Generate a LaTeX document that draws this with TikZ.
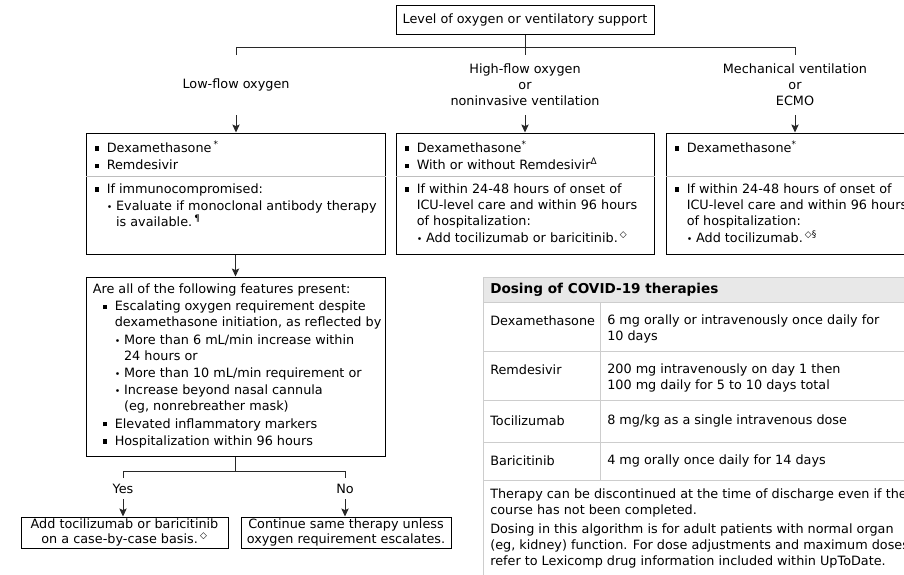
\documentclass[tikz,border=0pt]{standalone}
\usepackage{fontspec}
\setmainfont{DejaVu Sans}
\usepackage{tikz}
\usetikzlibrary{arrows.meta, positioning, fit}
\definecolor{LineGray}{RGB}{40,40,40}
\definecolor{RuleGray}{RGB}{190,190,190}
\definecolor{TabGray}{RGB}{205,205,205}
\definecolor{HeadFill}{RGB}{232,232,232}

\newlength{\sqw}\setlength{\sqw}{9pt}
\newlength{\dtw}\setlength{\dtw}{7pt}
\newlength{\ind}\setlength{\ind}{7.5pt}
\newcommand{\sqb}{\makebox[\sqw][l]{\rule[0.25ex]{3.2pt}{3.2pt}}}
\newcommand{\dtb}{\makebox[\dtw][l]{\scriptsize•}}
\newcommand{\fn}[1]{\textsuperscript{#1}}
\newcommand{\boxfont}{\fontsize{9.6}{12}\selectfont}

\begin{document}
\begin{tikzpicture}[
    x=0.75pt, y=-0.75pt,
    frame/.style={draw=black, line width=0.75pt, inner sep=0pt},
    txt/.style={anchor=north west, align=left, inner sep=0pt, font=\boxfont},
    lab/.style={align=center, inner sep=0pt, font=\boxfont},
    endtxt/.style={align=center, inner sep=0pt, font=\fontsize{9.6}{11}\selectfont},
    cell/.style={anchor=west, align=left, inner sep=0pt, font=\boxfont},
    divider/.style={draw=RuleGray, line width=0.75pt},
    tab/.style={draw=TabGray, line width=0.75pt},
    line/.style={draw=LineGray, line width=0.75pt},
    arr/.style={-{Stealth[length=6pt, width=5.5pt, inset=1.2pt]}, line width=0.75pt, LineGray}
]
\useasboundingbox (0,0) rectangle (904,575);
\clip (0,0) rectangle (904,575);

% level of support
\node[frame, font=\boxfont, minimum width=193.5pt, minimum height=21.75pt] (level) at (525,19.5) {Level of oxygen or ventilatory support};
\node[lab] (lowlab)  at (236,85) {Low-flow oxygen};
\node[lab] (highlab) at (525,85) {High-flow oxygen\\or\\noninvasive ventilation};
\node[lab] (mechlab) at (795,85) {Mechanical ventilation\\or\\ECMO};

\coordinate (busy)  at (0,47);
\coordinate (dropy) at (0,55);
\coordinate (arry)  at (0,115);
\draw[line] (level.south) -- (level.south |- dropy);
\draw[line] (lowlab |- dropy) -- (lowlab |- busy) -- (mechlab |- busy) -- (mechlab |- dropy);

% therapy boxes
\node[frame, fit={(86,133) (385,254)}]  (lowbox)  {};
\node[frame, fit={(396,133) (654,254)}] (highbox) {};
\node[frame, fit={(666,133) (912,254)}] (mechbox) {};
\coordinate (divy) at (0,176);
\draw[divider] (lowbox.west |- divy)  -- (lowbox.east |- divy);
\draw[divider] (highbox.west |- divy) -- (highbox.east |- divy);
\draw[divider] (mechbox.west |- divy) -- (mechbox.east |- divy);

\draw[arr] (lowlab |- arry)  -- (lowlab |- lowbox.north);
\draw[arr] (highlab |- arry) -- (highlab |- highbox.north);
\draw[arr] (mechlab |- arry) -- (mechlab |- mechbox.north);

\node[txt] (lowtop) at ([shift={(9,8)}]lowbox.north west)
  {\sqb Dexamethasone\,\fn{*}\\[1pt]\sqb Remdesivir};
\node[txt] (lowbot) at ([shift={(9,51)}]lowbox.north west)
  {\sqb If immunocompromised:\\[1pt]
   \hspace*{\sqw}\dtb Evaluate if monoclonal antibody therapy\\
   \hspace*{\sqw}\hspace*{\dtw}is available.\,\fn{¶}};

\node[txt] (hightop) at ([shift={(9,8)}]highbox.north west)
  {\sqb Dexamethasone\fn{*}\\[1pt]\sqb With or without Remdesivir\fn{Δ}};
\node[txt] (highbot) at ([shift={(9,51)}]highbox.north west)
  {\sqb If within 24-48 hours of onset of\\
   \hspace*{\sqw}ICU-level care and within 96 hours\\
   \hspace*{\sqw}of hospitalization:\\[1pt]
   \hspace*{\sqw}\dtb Add tocilizumab or baricitinib.\,\fn{◇}};

\node[txt] (mechtop) at ([shift={(9,8)}]mechbox.north west)
  {\sqb Dexamethasone\fn{*}};
\node[txt] (mechbot) at ([shift={(9,51)}]mechbox.north west)
  {\sqb If within 24-48 hours of onset of\\
   \hspace*{\sqw}ICU-level care and within 96 hours\\
   \hspace*{\sqw}of hospitalization:\\[1pt]
   \hspace*{\sqw}\dtb Add tocilizumab.\,\fn{◇§}};

% features box
\node[frame, fit={(86,277) (385,456)}] (featbox) {};
\draw[arr] (lowbox.south) -- (featbox.north);
\node[txt] (feattxt) at ([shift={(7,7)}]featbox.north west)
  {Are all of the following features present:\\[1pt]
   \hspace*{\ind}\sqb Escalating oxygen requirement despite\\
   \hspace*{\ind}\hspace*{\sqw}dexamethasone initiation, as reflected by\\[1pt]
   \hspace*{\ind}\hspace*{\sqw}\dtb More than 6 mL/min increase within\\
   \hspace*{\ind}\hspace*{\sqw}\hspace*{\dtw}24 hours or\\[1pt]
   \hspace*{\ind}\hspace*{\sqw}\dtb More than 10 mL/min requirement or\\[1pt]
   \hspace*{\ind}\hspace*{\sqw}\dtb Increase beyond nasal cannula\\
   \hspace*{\ind}\hspace*{\sqw}\hspace*{\dtw}(eg, nonrebreather mask)\\[1pt]
   \hspace*{\ind}\sqb Elevated inflammatory markers\\[1pt]
   \hspace*{\ind}\sqb Hospitalization within 96 hours};

% yes / no
\node[lab] (yeslab) at (123,489) {Yes};
\node[lab] (nolab)  at (345,489) {No};
\coordinate (yny)   at (0,471);
\coordinate (yndy)  at (0,478);
\draw[line] (featbox.south) -- (featbox.south |- yny);
\draw[line] (yeslab |- yndy) -- (yeslab |- yny) -- (nolab |- yny) -- (nolab |- yndy);

\node[frame, fit={(21,517) (228,548)}]  (yesbox) {};
\node[frame, fit={(241,517) (451,548)}] (nobox)  {};
\node[endtxt] (yestxt) at (yesbox.center) {Add tocilizumab or baricitinib\\on a case-by-case basis.\,\fn{◇}};
\node[endtxt] (notxt)  at (nobox.center)  {Continue same therapy unless\\oxygen requirement escalates.};
\draw[arr] ([shift={(0,5)}]yeslab.south) -- (yeslab |- yesbox.north);
\draw[arr] ([shift={(0,5)}]nolab.south)  -- (nolab |- nobox.north);

% dosing table
\fill[HeadFill] (483,277) rectangle (915,302);
\draw[tab] (483,600) -- (483,277) -- (915,277);
\foreach \ry in {302,351,400,442,480}
  \draw[tab] (483,\ry) -- (915,\ry);
\draw[tab] (600,302) -- (600,480);

\node[cell, font=\fontsize{10.2}{12}\selectfont\bfseries] (dosehead) at (490,290) {Dosing of COVID-19 therapies};
\node[cell] (dexname) at (490,321) {Dexamethasone};
\node[cell] (dexdose) at (607,329) {6 mg orally or intravenously once daily for\\10 days};
\node[cell] (remname) at (490,370) {Remdesivir};
\node[cell] (remdose) at (607,378) {200 mg intravenously on day 1 then\\100 mg daily for 5 to 10 days total};
\node[cell] (tocname) at (490,421) {Tocilizumab};
\node[cell] (tocdose) at (607,421) {8 mg/kg as a single intravenous dose};
\node[cell] (barname) at (490,461) {Baricitinib};
\node[cell] (bardose) at (607,461) {4 mg orally once daily for 14 days};
\node[txt] (dosenote) at (490,489)
  {Therapy can be discontinued at the time of discharge even if the\\
   course has not been completed.\\[2pt]
   Dosing in this algorithm is for adult patients with normal organ\\
   (eg, kidney) function. For dose adjustments and maximum doses,\\
   refer to Lexicomp drug information included within UpToDate.};
\end{tikzpicture}
\end{document}
